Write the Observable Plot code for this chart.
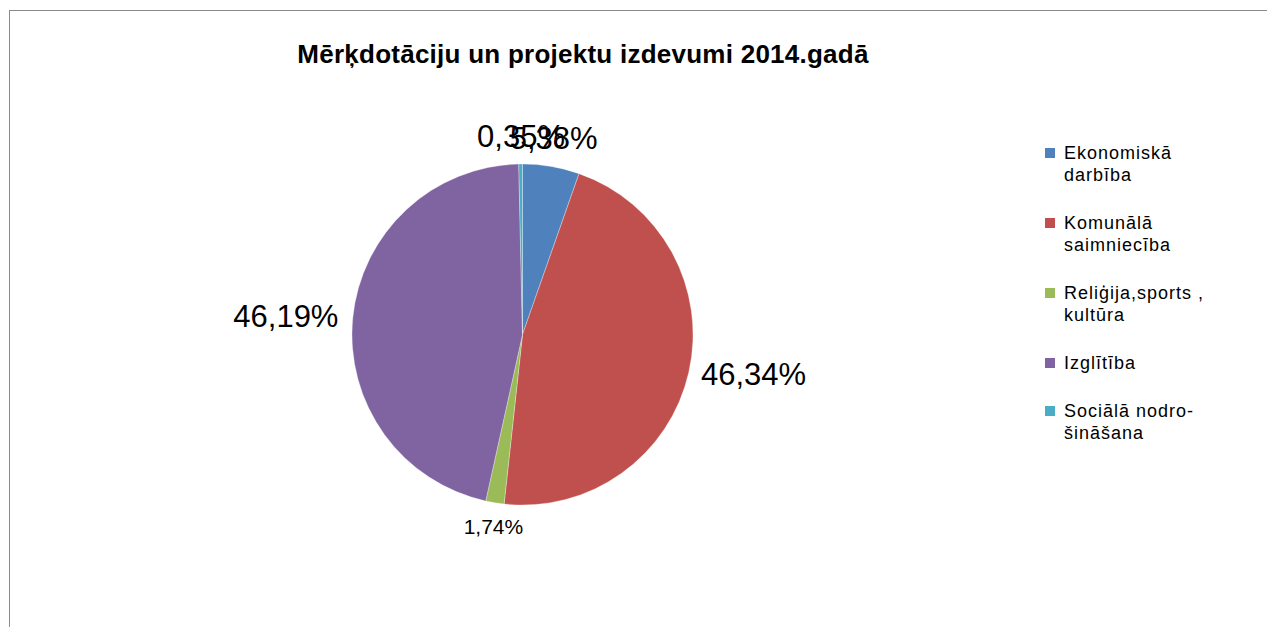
<!DOCTYPE html>
<html>
<head>
<meta charset="utf-8">
<script src="https://cdn.jsdelivr.net/npm/d3@7"></script>
<script src="https://cdn.jsdelivr.net/npm/@observablehq/plot@0.6"></script>
<style>
  html, body { margin: 0; padding: 0; background: #fff; }
  #wrap { position: relative; width: 1267px; height: 627px; overflow: hidden; font-family: "Liberation Sans", Arial, sans-serif; }
  #frame { position: absolute; left: 9px; top: 10px; width: 1300px; height: 700px; border-top: 1px solid #8a8a8a; border-left: 1px solid #8a8a8a; }
  #title { position: absolute; left: 0; top: 41px; width: 1166px; text-align: center; font-size: 26px; font-weight: bold; line-height: 26px; letter-spacing: 0.25px; color: #000; white-space: nowrap; }
  #plot { position: absolute; left: 0; top: 0; }
  #legend { position: absolute; left: 1045px; top: 142px; font-size: 18px; line-height: 22px; letter-spacing: 1px; color: #000; }
  .item { display: flex; align-items: flex-start; margin-bottom: 26px; }
  .sw { width: 10px; height: 10px; margin-top: 6px; margin-right: 9px; flex: none; }
  .lab { white-space: pre; }
</style>
</head>
<body>
<div id="wrap">
  <div id="frame"></div>
  <div id="plot"></div>
  <div id="title"></div>
  <div id="legend"></div>
</div>
<script>
// ---- data ----
const title = "Mērķdotāciju un projektu izdevumi 2014.gadā";
const categories = ["Ekonomiskā darbība", "Komunālā saimniecība", "Reliģija,sports , kultūra", "Izglītība", "Sociālā nodrošināšana"];
const legendLabels = ["Ekonomiskā\ndarbība", "Komunālā\nsaimniecība", "Reliģija,sports ,\nkultūra", "Izglītība", "Sociālā nodro-\nšināšana"];
const shares = [5.38, 46.34, 1.74, 46.19, 0.35];
const colors = ["#4F81BD", "#C0504D", "#9BBB59", "#8064A2", "#4BACC6"];

// ---- layout ----
const W = 1267, H = 627;
const cx = 522.5, cy = 334.5, R = 170.5;
const K = 1.07; // label radius (in pie radii)

const color = Plot.scale({color: {type: "ordinal", domain: categories, range: colors}});
const total = d3.sum(shares);
const rows = categories.map((c, i) => ({category: c, value: shares[i], pct: shares[i] / total * 100}));
const pie = d3.pie().sort(null).value(d => d.value)(rows);
pie.forEach(a => { a.data.arc = a; a.data.mid = (a.startAngle + a.endAngle) / 2; });

const fmt = p => p.toFixed(2).replace(".", ",") + "%";
function side(d) {
  const s = Math.sin(d.mid), c = Math.cos(d.mid);
  if (Math.abs(s) >= Math.abs(c)) return s > 0 ? "right" : "left";
  return c > 0 ? "top" : "bottom";
}
const labelSize = d => d.category === "Reliģija,sports , kultūra" ? 21 : 31;

const pieMark = (index, scales) => {
  const x0 = scales.x(0), y0 = scales.y(0), r = scales.x(1) - scales.x(0);
  const arc = d3.arc().innerRadius(0).outerRadius(r);
  const g = d3.create("svg:g").attr("transform", `translate(${x0},${y0})`);
  g.selectAll("path").data(rows).join("path")
    .attr("d", d => arc(d.arc))
    .attr("fill", d => color.apply(d.category))
    .attr("stroke", "#ffffff")
    .attr("stroke-opacity", 0.5)
    .attr("stroke-width", 0.6);
  return g.node();
};

const textOpts = {
  x: d => K * Math.sin(d.mid),
  y: d => -K * Math.cos(d.mid),
  text: d => fmt(d.pct),
  fontSize: labelSize,
  fill: "#000",
  fontFamily: "Liberation Sans, Arial, sans-serif"
};

const chart = Plot.plot({
  width: W, height: H,
  marginTop: 0, marginRight: 0, marginBottom: 0, marginLeft: 0,
  x: {type: "linear", domain: [-cx / R, (W - cx) / R], range: [0, W], axis: null},
  y: {type: "linear", domain: [-cy / R, (H - cy) / R], range: [0, H], axis: null},
  style: {background: "transparent", overflow: "visible"},
  marks: [
    pieMark,
    Plot.text(rows.filter(d => side(d) === "top"), {...textOpts, textAnchor: "middle", lineAnchor: "bottom", dy: -6}),
    Plot.text(rows.filter(d => side(d) === "bottom"), {...textOpts, textAnchor: "middle", lineAnchor: "top", dy: 4}),
    Plot.text(rows.filter(d => side(d) === "right"), {...textOpts, textAnchor: "start", lineAnchor: "middle"}),
    Plot.text(rows.filter(d => side(d) === "left"), {...textOpts, textAnchor: "end", lineAnchor: "middle", dx: -3})
  ]
});
document.getElementById("plot").appendChild(chart);

document.getElementById("title").textContent = title;

const legend = d3.select("#legend");
categories.forEach((c, i) => {
  const it = legend.append("div").attr("class", "item");
  it.append("div").attr("class", "sw").style("background", color.apply(c));
  it.append("div").attr("class", "lab").text(legendLabels[i]);
});
</script>
</body>
</html>
